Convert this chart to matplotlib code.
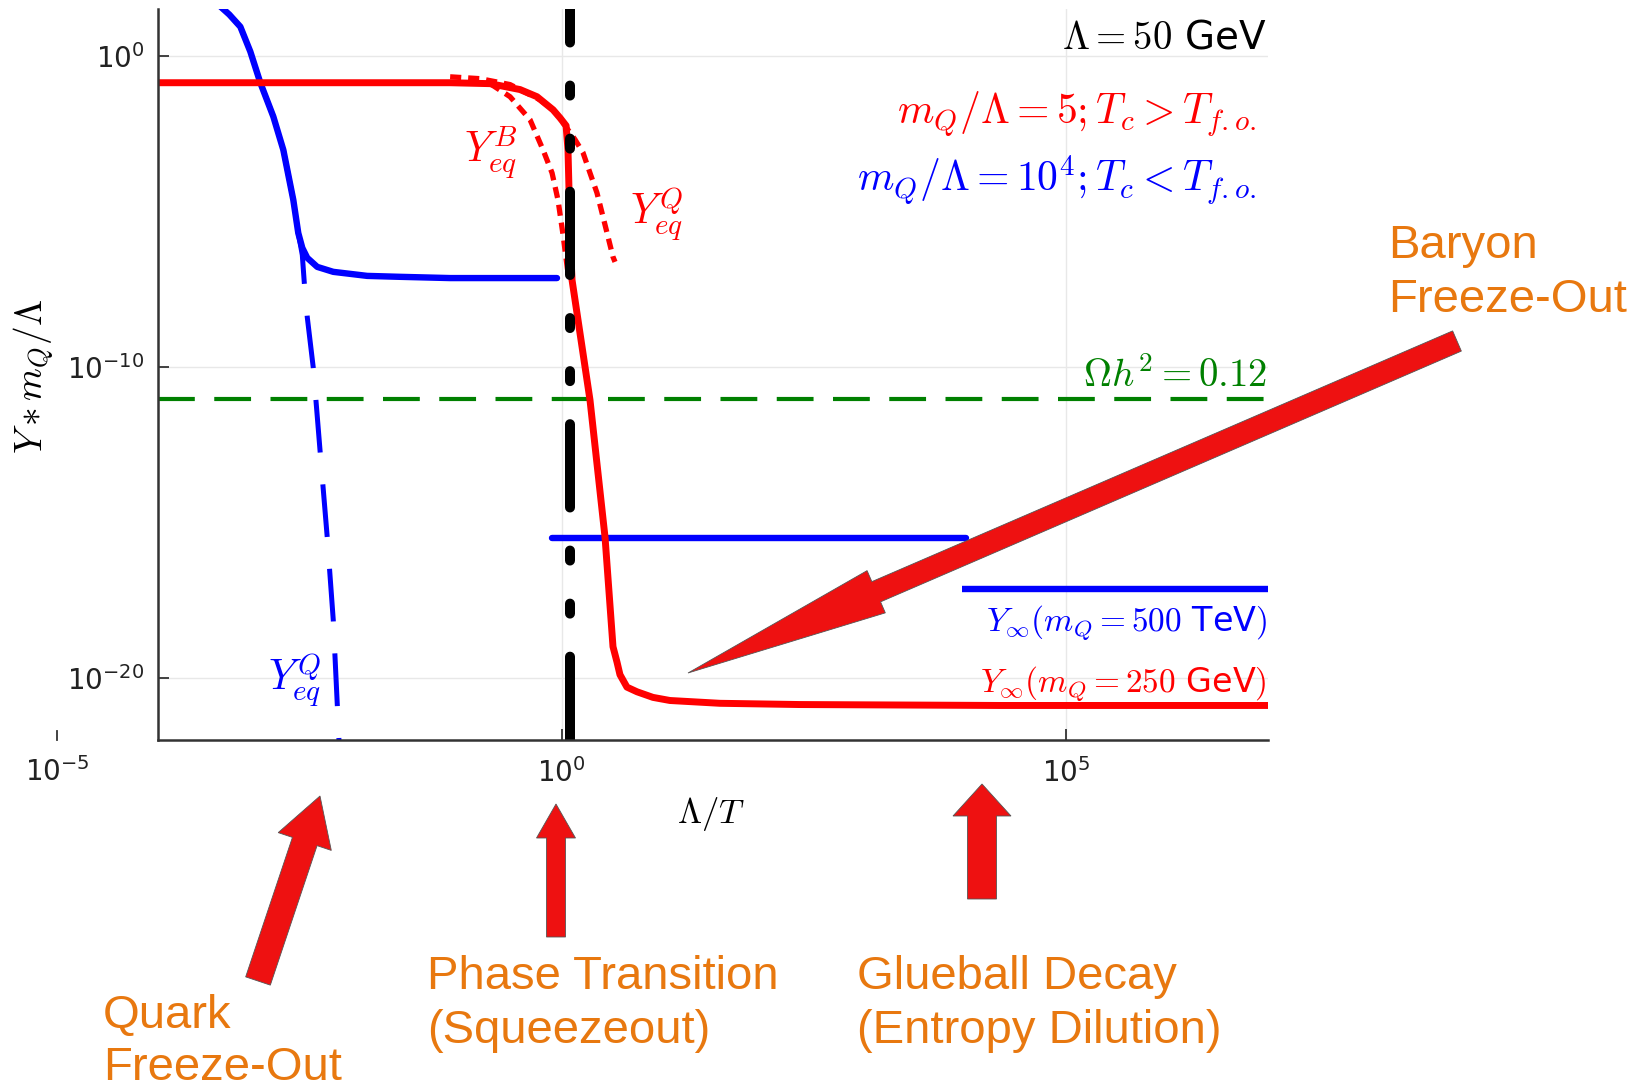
import numpy as np
import matplotlib
matplotlib.use("Agg")
import matplotlib.pyplot as plt
from matplotlib.patches import FancyArrow
from matplotlib.transforms import Affine2D, blended_transform_factory

plt.rcParams["mathtext.fontset"] = "cm"
plt.rcParams["lines.scale_dashes"] = False
plt.rcParams["font.family"] = ["DejaVu Sans"]

W, H, DPI = 1648, 1084, 100

# ---- curves, stored as log10(Lambda/T) and log10(Y * m_Q / Lambda) ----
# m_Q / Lambda = 5 : relic abundance
red_lx = [-3.996, -2.590, -1.105, -0.709, -0.412, -0.244, -0.085, -0.016, 0.044, 0.063,
          0.073, 0.083, 0.103, 0.281, 0.430, 0.509, 0.549, 0.578, 0.647, 0.747, 0.905,
          1.073, 1.568, 2.360, 4.340, 7.0]
red_ly = [-0.87, -0.87, -0.87, -0.90, -1.09, -1.32, -1.74, -2.00, -2.25, -3.03,
          -4.31, -5.76, -7.21, -11.07, -15.48, -19.00, -19.50, -19.90, -20.30, -20.45, -20.63,
          -20.73, -20.82, -20.86, -20.89, -20.89]
# quark equilibrium (red dotted)
red_eqQ_lx = [-1.105, -0.808, -0.511, -0.214, -0.065, 0.014, 0.133, 0.212, 0.281, 0.350,
              0.400, 0.450, 0.509, 0.529]
red_eqQ_ly = [-0.68, -0.74, -0.93, -1.42, -1.80, -2.16, -2.70, -3.12, -3.77, -4.41,
              -5.05, -5.70, -6.47, -6.63]
# baryon equilibrium (red dotted)
red_eqB_lx = [-0.709, -0.511, -0.313, -0.184, -0.095, -0.036, 0.014, 0.063]
red_eqB_ly = [-0.90, -1.32, -2.06, -3.03, -3.77, -4.64, -5.76, -7.00]

# m_Q / Lambda = 1e4 : quark freeze-out, then squeezeout and glueball dilution
blue_lx = [-3.402, -3.293, -3.184, -3.085, -2.986, -2.857, -2.758, -2.659, -2.610, -2.570,
           -2.521, -2.422, -2.263, -1.927, -1.600, -1.105, -0.610, -0.046]
blue_ly = [1.64, 1.32, 0.93, 0.13, -0.87, -1.96, -3.03, -4.64, -5.70, -6.18,
           -6.50, -6.79, -6.95, -7.08, -7.11, -7.15, -7.15, -7.15]
blue_eq_lx = [-3.402, -3.293, -3.184, -3.085, -2.986, -2.857, -2.758, -2.659, -2.610, -2.570,
              -2.550, -2.521, -2.461, -2.392, -2.323, -2.263, -2.224, -2.204]
blue_eq_ly = [1.64, 1.32, 0.93, 0.13, -0.87, -1.96, -3.03, -4.64, -5.70, -6.41,
              -7.31, -8.40, -10.04, -12.78, -15.48, -18.15, -20.82, -22.18]
blue_squeeze_lx = [-0.095, 4.005]
blue_squeeze_ly = [-15.52, -15.52]
blue_final_lx = [3.97, 7.0]
blue_final_ly = [-17.15, -17.15]

omega_ly = -11.05          # Omega h^2 = 0.12
tc_lx = 0.083              # phase transition

x_lim = (1e-4, 1e7)
y_lim = (1e-22, 10 ** 1.5)
x_ticks = [1e0, 1e5]
x_tick_outside = 1e-5      # labelled although left of the frame
y_ticks = [1e-20, 1e-10, 1e0]

RED, BLUE, GREEN = "#ff0000", "#0000ff", "#008000"
ORANGE = "#e8780f"
ARROW = "#ee1111"


def p(a):
    return 10.0 ** np.asarray(a)


fig = plt.figure(figsize=(W / DPI, H / DPI), dpi=DPI)
ax = fig.add_axes([158 / W, 1 - 740 / H, 1110 / W, 731 / H])
ax.set_xscale("log")
ax.set_yscale("log")

ax.plot(p(red_eqQ_lx), p(red_eqQ_ly), color=RED, lw=3.8, ls=(0, (8, 5)))
ax.plot(p(red_eqB_lx), p(red_eqB_ly), color=RED, lw=3.8, ls=(0, (8, 5)))
ax.plot(p(blue_eq_lx), p(blue_eq_ly), color=BLUE, lw=3.6, ls=(6.8, (38, 23)))
ax.axhline(p(omega_ly), color=GREEN, lw=3.0, ls=(0, (26.5, 14)))
ax.plot(p(blue_lx), p(blue_ly), color=BLUE, lw=4.6, solid_capstyle="round",
        solid_joinstyle="round")
ax.plot(p(blue_squeeze_lx), p(blue_squeeze_ly), color=BLUE, lw=4.6, solid_capstyle="round")
ax.plot(p(blue_final_lx), p(blue_final_ly), color=BLUE, lw=4.6, solid_capstyle="butt")
ax.plot(p(red_lx), p(red_ly), color=RED, lw=5.0, solid_joinstyle="round")
ax.plot([p(tc_lx)] * 2, list(y_lim), color="black", lw=7.2,
        ls=(0, (60, 31, 7.2, 31, 7.2, 31)), dash_capstyle="round")

ax.set_xticks(x_ticks)
ax.set_yticks(y_ticks)
ax.set_xlim(*x_lim)
ax.set_ylim(*y_lim)
ax.minorticks_off()
ax.grid(True, color="#e8e8e8", lw=1.0)
ax.set_axisbelow(True)
for s in ("top", "right"):
    ax.spines[s].set_visible(False)
for s in ("left", "bottom"):
    ax.spines[s].set_color("#333333")
    ax.spines[s].set_linewidth(1.8)
ax.tick_params(direction="in", length=8, width=1.3, color="#333333",
               labelsize=20, labelcolor="#222222")
ax.tick_params(axis="y", pad=10)
ax.tick_params(axis="x", pad=13)

# the 1e-5 tick sits left of the frame
bt = blended_transform_factory(ax.transData, ax.transAxes)
ax.plot([x_tick_outside] * 2, [0, 0.012], transform=bt, color="#333333", lw=1.3,
        clip_on=False)
ax.text(x_tick_outside, -0.024, r"$\mathdefault{10^{-5}}$", transform=bt, ha="center",
        va="top", fontsize=20, color="#222222", clip_on=False)

ax.text(0.498, -0.101, r"$\Lambda/T$", transform=ax.transAxes, ha="center", va="center",
        fontsize=25)
ax.text(-0.112, 0.498, r"$Y * m_Q/\Lambda$", transform=ax.transAxes, rotation=90,
        ha="center", va="center", fontsize=27)

# in-plot labels
ta = ax.transAxes
ax.text(0.999, 0.9466, r"$\Lambda = 50$ GeV", transform=ta, ha="right", va="baseline",
        fontsize=28)
ax.text(0.989, 0.8427, r"$m_Q/\Lambda = 5; T_c > T_{f.o.}$", transform=ta, ha="right",
        va="baseline", fontsize=30, color=RED)
ax.text(0.989, 0.7497, r"$m_Q/\Lambda = 10^4; T_c < T_{f.o.}$", transform=ta, ha="right",
        va="baseline", fontsize=30, color=BLUE)
ax.text(0.999, 0.4829, r"$\Omega h^2 = 0.12$", transform=ta, ha="right", va="baseline",
        fontsize=28, color=GREEN)
ax.text(0.999, 0.1500, r"$Y_\infty(m_Q = 500$ TeV$)$", transform=ta, ha="right",
        va="baseline", fontsize=24, color=BLUE)
ax.text(0.999, 0.0670, r"$Y_\infty(m_Q = 250$ GeV$)$", transform=ta, ha="right",
        va="baseline", fontsize=24, color=RED)
ax.text(0.276, 0.7907, r"$Y_{eq}^{B}$", transform=ta, ha="left", va="baseline",
        fontsize=30, color=RED)
ax.text(0.425, 0.7060, r"$Y_{eq}^{Q}$", transform=ta, ha="left", va="baseline",
        fontsize=30, color=RED)
ax.text(0.0990, 0.0680, r"$Y_{eq}^{Q}$", transform=ta, ha="left", va="baseline",
        fontsize=30, color=BLUE)

# callout arrows, in pixel coordinates measured from the top-left corner
px = Affine2D().scale(1, -1).translate(0, H)
arrows = [
    # tail x, tail y, tip x, tip y, shaft width, head width, head length
    (1457, 341, 688, 673, 22, 46, 205),
    (258, 981, 320, 796, 26, 56, 48),
    (556, 937, 556, 804, 19, 39, 34),
    (982, 899, 982, 784, 29, 58, 32),
]
for x0, y0, x1, y1, w, hw, hl in arrows:
    arr = FancyArrow(x0, y0, x1 - x0, y1 - y0, width=w, head_width=hw, head_length=hl,
                     length_includes_head=True, facecolor=ARROW, edgecolor="#555555",
                     lw=0.6, transform=px)
    fig.add_artist(arr)

callouts = [
    (1388, [258, 312], ["Baryon", "Freeze-Out"]),
    (103, [1028, 1080], ["Quark", "Freeze-Out"]),
    (427, [989, 1043], ["Phase Transition", "(Squeezeout)"]),
    (857, [989, 1043], ["Glueball Decay", "(Entropy Dilution)"]),
]
for x0, baselines, lines in callouts:
    for yb, line in zip(baselines, lines):
        fig.text(x0 / W, 1 - yb / H, line, ha="left", va="baseline", fontsize=34,
                 color=ORANGE, family=["Liberation Sans", "DejaVu Sans"])

fig.savefig("out.png", dpi=DPI)
